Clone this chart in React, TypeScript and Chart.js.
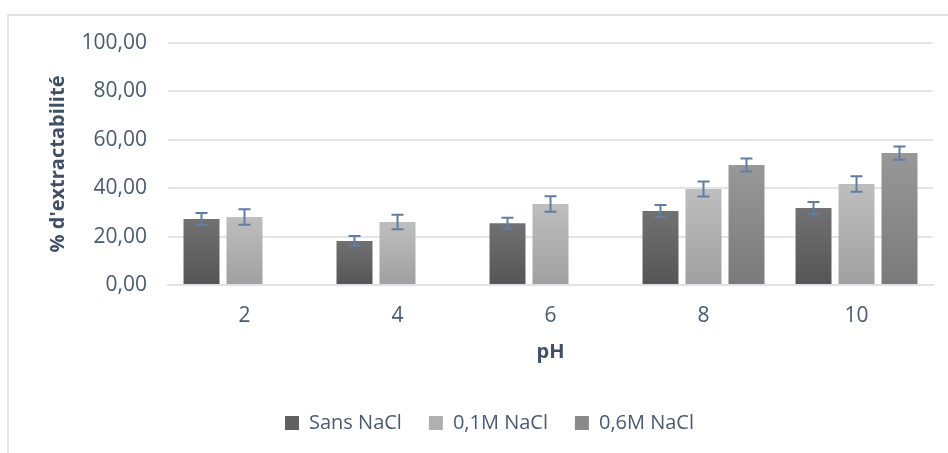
import React, { useEffect, useRef } from "react";
import { Chart, registerables } from "chart.js";

Chart.register(...registerables);

const categories = ["2", "4", "6", "8", "10"];
const seriesNames = ["Sans NaCl", "0,1M NaCl", "0,6M NaCl"];
const sansNaCl = [27.3, 18.2, 25.5, 30.6, 31.8];
const sansNaClErr = [2.5, 2.0, 2.3, 2.5, 2.5];
const nacl01 = [28.1, 26.0, 33.5, 39.7, 41.7];
const nacl01Err = [3.2, 3.0, 3.2, 3.1, 3.2];
const nacl06 = [null, null, null, 49.6, 54.5];
const nacl06Err = [null, null, null, 2.7, 2.7];
const yTicks = [0, 20, 40, 60, 80, 100];

const FONT = "'Open Sans', sans-serif";
const TEXT = "#495a73";

const palettes = [
  { top: "#717171", bottom: "#555555", mid: "#606060" },
  { top: "#bebebe", bottom: "#a0a0a0", mid: "#b0b0b0" },
  { top: "#989898", bottom: "#7a7a7a", mid: "#8a8a8a" },
];

function gradientFor(idx: number) {
  return (ctx: any) => {
    const p = palettes[idx];
    if (ctx.type !== "data" || ctx.raw == null) return p.mid;
    const chart = ctx.chart;
    const y = chart.scales && chart.scales.y;
    if (!y) return p.mid;
    const yTop = y.getPixelForValue(ctx.raw);
    const yBot = y.getPixelForValue(0);
    if (!isFinite(yTop) || !isFinite(yBot) || yTop === yBot) return p.mid;
    const g = chart.ctx.createLinearGradient(0, yTop, 0, yBot);
    g.addColorStop(0, p.top);
    g.addColorStop(1, p.bottom);
    return g;
  };
}

const errorBarPlugin = {
  id: "errorBars",
  afterDatasetsDraw(chart: any) {
    const { ctx } = chart;
    const y = chart.scales.y;
    ctx.save();
    ctx.strokeStyle = "#5f7ea3";
    ctx.lineWidth = 2;
    chart.data.datasets.forEach((ds: any, di: number) => {
      const meta = chart.getDatasetMeta(di);
      if (meta.hidden) return;
      meta.data.forEach((el: any, i: number) => {
        const v = ds.data[i];
        const e = ds.errors ? ds.errors[i] : null;
        if (v == null || e == null) return;
        const x = el.x;
        const yHi = y.getPixelForValue(v + e);
        const yLo = y.getPixelForValue(v - e);
        const cap = 6;
        ctx.beginPath();
        ctx.moveTo(x, yHi);
        ctx.lineTo(x, yLo);
        ctx.moveTo(x - cap, yHi);
        ctx.lineTo(x + cap, yHi);
        ctx.moveTo(x - cap, yLo);
        ctx.lineTo(x + cap, yLo);
        ctx.stroke();
      });
    });
    ctx.restore();
  },
};

export default function App() {
  const ref = useRef<HTMLCanvasElement | null>(null);

  useEffect(() => {
    if (!ref.current) return;
    const values = [sansNaCl, nacl01, nacl06];
    const errs = [sansNaClErr, nacl01Err, nacl06Err];
    const chart = new Chart(ref.current, {
      type: "bar",
      data: {
        labels: categories,
        datasets: seriesNames.map((name, i) => ({
          label: name,
          data: values[i] as any,
          errors: errs[i],
          backgroundColor: gradientFor(i),
          borderWidth: 0,
          categoryPercentage: 0.843,
          barPercentage: 0.837,
        })) as any,
      },
      options: {
        responsive: false,
        animation: false,
        devicePixelRatio: 1,
        layout: { padding: { left: 46, right: 15, top: 43, bottom: 10 } },
        plugins: {
          tooltip: { enabled: false },
          title: { display: false },
          legend: {
            position: "bottom",
            labels: {
              font: { family: FONT, size: 20 },
              color: TEXT,
              boxWidth: 14,
              boxHeight: 14,
              padding: 27,
              generateLabels: (chart: any) =>
                chart.data.datasets.map((ds: any, i: number) => ({
                  text: ds.label,
                  fillStyle: palettes[i].mid,
                  strokeStyle: palettes[i].mid,
                  lineWidth: 0,
                  hidden: false,
                  datasetIndex: i,
                  fontColor: TEXT,
                })),
            },
          },
        },
        scales: {
          x: {
            grid: { display: false, drawTicks: false },
            border: { display: true, color: "#dfe2e7", width: 2 },
            ticks: {
              font: { family: FONT, size: 21 },
              color: TEXT,
              padding: 18,
            },
            title: {
              display: true,
              text: "pH",
              font: { family: FONT, size: 20, weight: "bold" },
              color: "#3f4f68",
              padding: { top: 0, bottom: 22 },
            },
            afterFit: (scale: any) => {
              scale.height = 101;
            },
          },
          y: {
            min: 0,
            max: 100,
            afterBuildTicks: (scale: any) => {
              scale.ticks = yTicks.map((v) => ({ value: v }));
            },
            grid: { color: "#e1e4e9", lineWidth: 2, drawTicks: false },
            border: { display: false },
            ticks: {
              font: { family: FONT, size: 21 },
              color: TEXT,
              padding: 21,
              callback: (v: any) => Number(v).toFixed(2).replace(".", ","),
            },
            title: {
              display: true,
              text: "% d'extractabilité",
              font: { family: FONT, size: 20, weight: "bold" },
              color: "#3f4f68",
              padding: { top: 0, bottom: 0 },
            },
            afterFit: (scale: any) => {
              scale.width = 122;
            },
          },
        },
      },
      plugins: [errorBarPlugin],
    } as any);
    return () => chart.destroy();
  }, []);

  return (
    <div
      style={{
        position: "fixed",
        left: 0,
        top: 0,
        width: 948,
        height: 453,
        overflow: "hidden",
        background: "#ffffff",
      }}
    >
      <div
        style={{
          position: "absolute",
          left: 7,
          top: 14,
          width: 1000,
          height: 1000,
          border: "2px solid #e2e4e8",
          boxSizing: "border-box",
        }}
      />
      <canvas
        ref={ref}
        width={948}
        height={453}
        style={{ position: "absolute", left: 0, top: 0, width: 948, height: 453 }}
      />
    </div>
  );
}
